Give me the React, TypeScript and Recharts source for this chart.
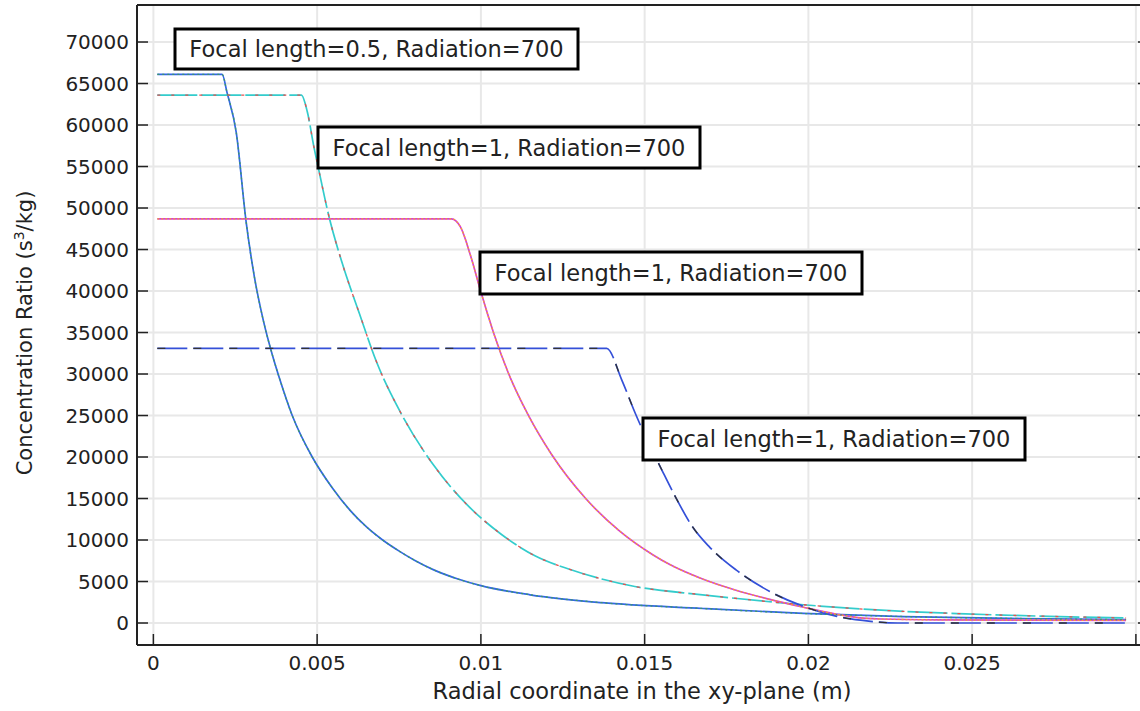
import React from 'react'
import { LineChart, Line, XAxis, YAxis, CartesianGrid } from 'recharts'

// axis ticks
const xTicks = [0, 0.005, 0.01, 0.015, 0.02, 0.025, 0.03]
const xTickLabels = ['0', '0.005', '0.01', '0.015', '0.02', '0.025', '']
const yTicks = [0, 5000, 10000, 15000, 20000, 25000, 30000, 35000, 40000, 45000, 50000, 55000, 60000, 65000, 70000]

// Focal length=0.5
const rF05 = [0.00012, 0.0021, 0.00225, 0.00253, 0.00283, 0.00308, 0.00336, 0.00364, 0.00384, 0.00424, 0.00485, 0.00546, 0.006, 0.0065, 0.007, 0.00753, 0.008, 0.00856, 0.0093, 0.01, 0.0115, 0.01369, 0.01677, 0.01985, 0.0229, 0.0265, 0.0297]
const cF05 = [66100, 66100, 63900, 59100, 48400, 41800, 36400, 32200, 29600, 25000, 20000, 16300, 13600, 11600, 10000, 8600, 7500, 6400, 5300, 4500, 3400, 2450, 1750, 1150, 780, 540, 400]

// Focal length=1 (first)
const rF1a = [0.00012, 0.00452, 0.0047, 0.0049, 0.00505, 0.00536, 0.00577, 0.00629, 0.0068, 0.00753, 0.00856, 0.00959, 0.01062, 0.01165, 0.01268, 0.01369, 0.0147, 0.01677, 0.01985, 0.0229, 0.0248, 0.0297]
const cF1a = [63600, 63600, 61600, 57400, 54600, 49000, 43300, 37300, 31600, 25500, 19000, 14200, 10700, 8100, 6500, 5300, 4400, 3400, 2200, 1400, 1100, 600]

// Focal length=1 (second)
const rF1b = [0.00012, 0.0091, 0.00938, 0.00969, 0.01, 0.01041, 0.01082, 0.01144, 0.01216, 0.0132, 0.01423, 0.01526, 0.01574, 0.01677, 0.01779, 0.01882, 0.01985, 0.02087, 0.0214, 0.0222, 0.024, 0.0297]
const cF1b = [48700, 48700, 47700, 44200, 39900, 34700, 30300, 25100, 20300, 15000, 11100, 8200, 7100, 5300, 3950, 2850, 1900, 1050, 700, 480, 380, 320]

// Focal length=1 (third)
const rF1c = [0.00012, 0.01384, 0.0143, 0.01471, 0.01512, 0.01553, 0.01594, 0.01646, 0.01697, 0.01779, 0.01882, 0.01985, 0.02087, 0.0219, 0.02272, 0.0297]
const cF1c = [33100, 33100, 29300, 25300, 21700, 18400, 15200, 11600, 9200, 6400, 3800, 2000, 800, 200, 0, 0]

const toPoints = (r: number[], c: number[]) => r.map((x, i) => ({ x, y: c[i] }))

const series = [
  { id: 'f05', data: toPoints(rF05, cF05), base: '#3366e6', baseDash: undefined, over: '#3c9a66', overDash: '2 3' },
  { id: 'f1a', data: toPoints(rF1a, cF1a), base: '#33cccc', baseDash: '40 4', over: '#e65050', overDash: '3 11' },
  { id: 'f1b', data: toPoints(rF1b, cF1b), base: '#d440d8', baseDash: undefined, over: '#f5a030', overDash: '2 2' },
  { id: 'f1c', data: toPoints(rF1c, cF1c), base: '#3450d8', baseDash: '30 6', over: '#333333', overDash: '8 28' },
]

const notes = [
  { text: 'Focal length=0.5, Radiation=700', x: 175, y: 29, w: 403, h: 40 },
  { text: 'Focal length=1, Radiation=700', x: 318, y: 127, w: 382, h: 41 },
  { text: 'Focal length=1, Radiation=700', x: 480, y: 252, w: 382, h: 42 },
  { text: 'Focal length=1, Radiation=700', x: 643, y: 418, w: 382, h: 42 },
]

const ink = '#222'
const font = 'DejaVu Sans'

function LeftTick({ x, y, payload }: any) {
  return (
    <g>
      <line x1={x} y1={y} x2={x + 11} y2={y} stroke={ink} strokeWidth={1.5} />
      <text x={x - 8} y={y} dy={7} textAnchor="end" fontSize={20} fill={ink} fontFamily={font}>
        {payload.value}
      </text>
    </g>
  )
}

function RightTick({ x, y }: any) {
  return <line x1={x} y1={y} x2={x - 11} y2={y} stroke={ink} strokeWidth={1.5} />
}

function BottomTick({ x, y, payload }: any) {
  const label = xTickLabels[xTicks.indexOf(payload.value)]
  return (
    <g>
      <line x1={x} y1={y} x2={x} y2={y - 11} stroke={ink} strokeWidth={1.5} />
      <text x={x} y={y + 25} textAnchor="middle" fontSize={20} fill={ink} fontFamily={font}>
        {label}
      </text>
    </g>
  )
}

function TopTick({ x, y }: any) {
  return <line x1={x} y1={y} x2={x} y2={y + 11} stroke={ink} strokeWidth={1.5} />
}

export default function App() {
  const xDomain: [number, number] = [-0.0005, 0.0304]
  const yDomain: [number, number] = [-2650, 74460]
  return (
    <div style={{ position: 'fixed', left: 0, top: 0, width: 1140, height: 711, overflow: 'hidden', background: '#fff' }}>
      <LineChart width={1160} height={711} margin={{ top: 0, right: 0, bottom: 0, left: 0 }} style={{ fontFamily: font }}>
        <CartesianGrid stroke="#e8e8e8" strokeWidth={2} />
        <XAxis
          type="number"
          dataKey="x"
          domain={xDomain}
          ticks={xTicks}
          interval={0}
          allowDataOverflow
          height={66}
          tickSize={0}
          tickMargin={0}
          tickLine={false}
          tick={<BottomTick />}
          axisLine={{ stroke: ink, strokeWidth: 2 }}
        />
        <XAxis
          xAxisId="top"
          orientation="top"
          type="number"
          domain={xDomain}
          ticks={xTicks}
          interval={0}
          allowDataOverflow
          height={5}
          tickSize={0}
          tickMargin={0}
          tickLine={false}
          tick={<TopTick />}
          axisLine={{ stroke: ink, strokeWidth: 2 }}
        />
        <YAxis
          type="number"
          domain={yDomain}
          ticks={yTicks}
          interval={0}
          allowDataOverflow
          width={137}
          tickSize={0}
          tickMargin={0}
          tickLine={false}
          tick={<LeftTick />}
          axisLine={{ stroke: ink, strokeWidth: 2 }}
        />
        <YAxis
          yAxisId="right"
          orientation="right"
          type="number"
          domain={yDomain}
          ticks={yTicks}
          interval={0}
          allowDataOverflow
          width={11}
          tickSize={0}
          tickMargin={0}
          tickLine={false}
          tick={<RightTick />}
          axisLine={{ stroke: ink, strokeWidth: 2 }}
        />
        {series.map((s) => (
          <Line
            key={s.id + '-base'}
            data={s.data}
            dataKey="y"
            type="monotone"
            stroke={s.base}
            strokeWidth={1.7}
            strokeDasharray={s.baseDash}
            dot={false}
            activeDot={false}
            isAnimationActive={false}
          />
        ))}
        {series.map((s) => (
          <Line
            key={s.id + '-over'}
            data={s.data}
            dataKey="y"
            type="monotone"
            stroke={s.over}
            strokeWidth={1.3}
            strokeDasharray={s.overDash}
            dot={false}
            activeDot={false}
            isAnimationActive={false}
          />
        ))}
      </LineChart>
      <svg width={1140} height={711} style={{ position: 'absolute', left: 0, top: 0, pointerEvents: 'none' }}>
        {notes.map((n, i) => (
          <g key={i}>
            <rect x={n.x} y={n.y} width={n.w} height={n.h} fill="#fff" stroke="#000" strokeWidth={3} />
            <text
              x={n.x + n.w / 2}
              y={n.y + n.h / 2 + 8}
              textAnchor="middle"
              fontSize={22.5}
              fill={ink}
              fontFamily={font}
            >
              {n.text}
            </text>
          </g>
        ))}
        <text x={642} y={699} textAnchor="middle" fontSize={22.5} fill={ink} fontFamily={font}>
          Radial coordinate in the xy-plane (m)
        </text>
        <text transform="translate(32,333) rotate(-90)" textAnchor="middle" fontSize={21} fill={ink} fontFamily={font}>
          Concentration Ratio (s<tspan dy={-8} fontSize={14}>3</tspan>
          <tspan dy={8}>/kg)</tspan>
        </text>
      </svg>
    </div>
  )
}
